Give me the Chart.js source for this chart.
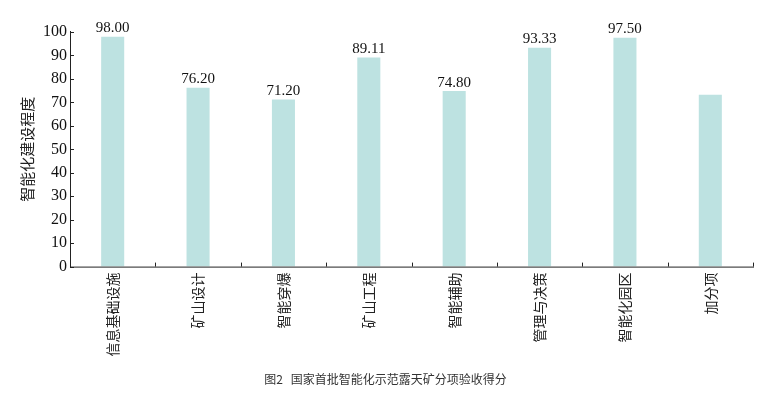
<!DOCTYPE html>
<html>
<head>
<meta charset="utf-8">
<script src="https://cdn.jsdelivr.net/npm/chart.js@4/dist/chart.umd.min.js"></script>
<style>
  html, body { margin: 0; padding: 0; background: #fff; }
  #wrap { position: relative; width: 768px; height: 397px; }
</style>
</head>
<body>
<div id="wrap"><canvas id="chart"></canvas></div>
<script>
// ── Datos ──────────────────────────
const CATEGORIES = ['信息基础设施', '矿山设计', '智能穿爆', '矿山工程', '智能辅助', '管理与决策', '智能化园区', '加分项'];
const SCORES     = [98.00, 76.20, 71.20, 89.11, 74.80, 93.33, 97.50, 73.3];
const SHOW_LABEL = [true, true, true, true, true, true, true, false];
const Y_TICKS    = [0, 10, 20, 30, 40, 50, 60, 70, 80, 90, 100];

const SERIF = '"Liberation Serif", "Times New Roman", serif';
const CJK   = '"Noto Sans CJK SC", sans-serif';
const BAR_COLOR = '#bde2e1';

// ticks hacia dentro + etiquetas de valor
const decor = {
  id: 'decor',
  afterDraw(chart) {
    const { ctx, chartArea: a, scales: { x, y } } = chart;
    ctx.save();
    ctx.strokeStyle = '#222';
    ctx.lineWidth = 1;
    ctx.beginPath();
    // ejes
    ctx.moveTo(a.left + 0.5, a.top - 1);
    ctx.lineTo(a.left + 0.5, a.bottom + 0.5);
    ctx.lineTo(a.right + 1, a.bottom + 0.5);
    // ticks y
    Y_TICKS.forEach(v => {
      const py = Math.round(y.getPixelForValue(v)) + 0.5;
      ctx.moveTo(a.left, py);
      ctx.lineTo(a.left + 4, py);
    });
    // ticks x (entre categorías)
    for (let i = 1; i <= CATEGORIES.length; i++) {
      const px = Math.round(a.left + (a.right - a.left) * i / CATEGORIES.length) + 0.5;
      ctx.moveTo(px, a.bottom);
      ctx.lineTo(px, a.bottom - 4);
    }
    ctx.stroke();

    // valores
    ctx.fillStyle = '#111';
    ctx.font = '15px ' + SERIF;
    ctx.textAlign = 'center';
    ctx.textBaseline = 'bottom';
    chart.getDatasetMeta(0).data.forEach((bar, i) => {
      if (!SHOW_LABEL[i]) return;
      ctx.fillText(SCORES[i].toFixed(2), bar.x, bar.y - 1);
    });
    ctx.restore();
  }
};

new Chart(document.getElementById('chart'), {
  type: 'bar',
  data: {
    labels: CATEGORIES,
    datasets: [{
      data: SCORES,
      backgroundColor: BAR_COLOR,
      borderWidth: 0,
      categoryPercentage: 1,
      barPercentage: 0.27
    }]
  },
  options: {
    responsive: true,
    maintainAspectRatio: false,
    animation: false,
    layout: { padding: { top: 32, right: 15, left: 18, bottom: 10 } },
    plugins: {
      legend: { display: false },
      tooltip: { enabled: false },
      title: {
        display: true,
        position: 'bottom',
        text: '图2   国家首批智能化示范露天矿分项验收得分',
        color: '#333',
        font: { family: CJK, size: 12, weight: 'normal' },
        padding: { top: 10, bottom: 0 }
      }
    },
    scales: {
      x: {
        grid: { display: false, drawTicks: false },
        border: { display: false },
        ticks: {
          color: '#222',
          font: { family: CJK, size: 14 },
          minRotation: 90,
          maxRotation: 90,
          padding: 6,
          autoSkip: false
        }
      },
      y: {
        min: 0,
        max: 100,
        afterBuildTicks: s => { s.ticks = Y_TICKS.map(v => ({ value: v })); },
        grid: { display: false, drawTicks: false },
        border: { display: false },
        ticks: {
          color: '#111',
          font: { family: SERIF, size: 16 },
          padding: 3
        },
        title: {
          display: true,
          text: '智能化建设程度',
          color: '#222',
          font: { family: CJK, size: 15 },
          padding: { top: 0, bottom: 4 }
        }
      }
    }
  },
  plugins: [decor]
});
</script>
</body>
</html>
